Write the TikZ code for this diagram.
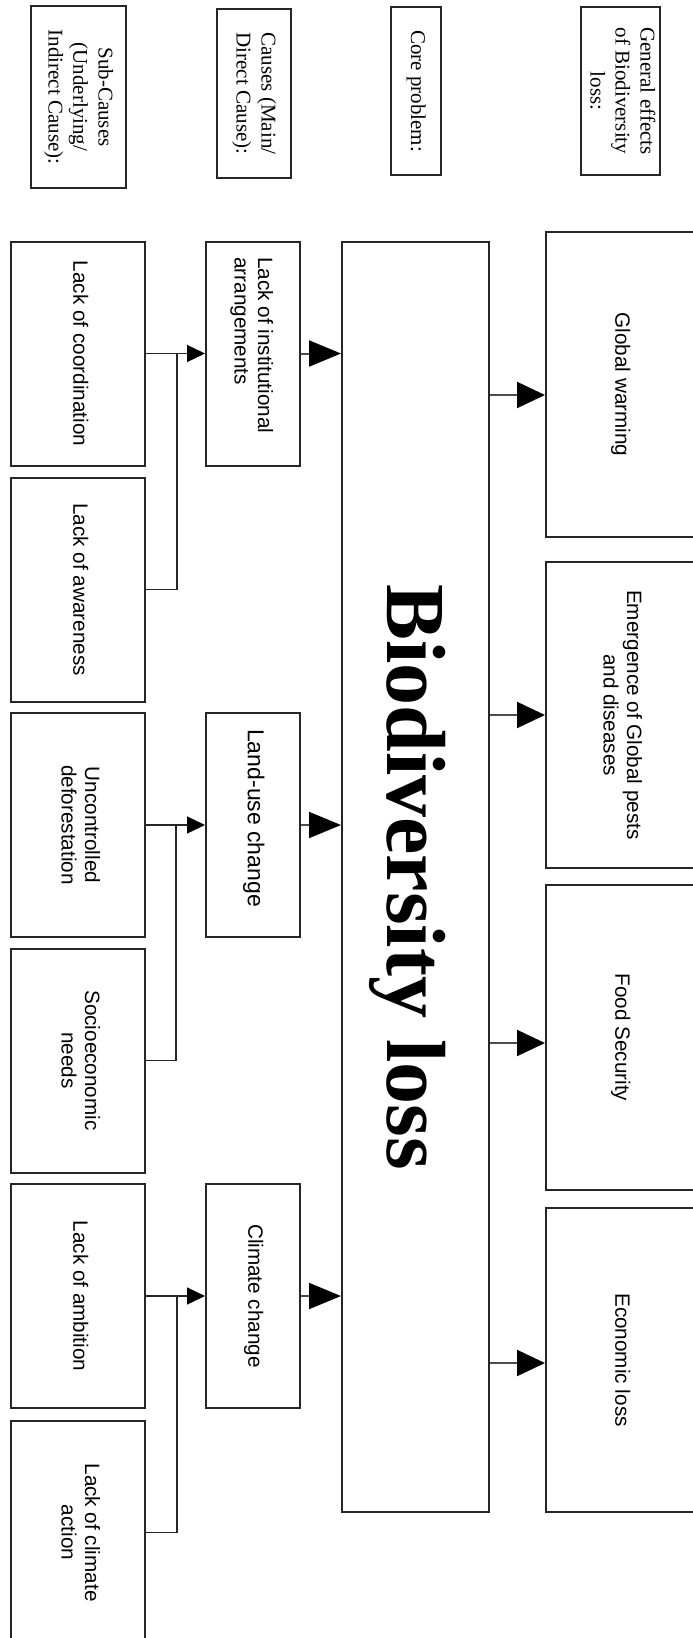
\documentclass[tikz,border=0pt]{standalone}
\usepackage{fontspec}
\setmainfont{Liberation Serif}
\newfontfamily\boxfont{Liberation Sans}
\usetikzlibrary{arrows.meta}

% font settings for the three kinds of text
\newcommand{\headfont}{\fontsize{21}{25}\selectfont}
\newcommand{\cellfont}{\boxfont\fontsize{20.7}{23.5}\selectfont}
\newcommand{\vtext}[2][c]{\rotatebox{-90}{\begin{tabular}{@{}#1@{}}#2\end{tabular}}}

\tikzset{
  frame/.style={draw=black!85, line width=2pt, fill=white, inner sep=0pt},
  box/.style 2 args={frame, minimum width=#1pt, minimum height=#2pt},
  head/.style={font=\headfont},
  cell/.style={font=\cellfont},
  link/.style={draw=black!85, line width=1.4pt},
  feed/.style={link, -{Triangle[length=18pt,width=17pt,color=black]}},
  mainarrow/.style={draw=black!70, line width=2pt, -{Triangle[length=32pt,width=26pt,color=black]}},
  effarrow/.style={draw=black!70, line width=2pt, -{Triangle[length=28pt,width=26pt,color=black]}}
}

\begin{document}
\begin{tikzpicture}[x=1pt,y=-1pt]
\useasboundingbox (0,0) rectangle (693,1638);
\fill[white] (0,0) rectangle (693,1638);

% row headers
\node[box={95}{182}, head] (hsub) at (78.5,97)
  {\vtext{Sub-Causes\\(Underlying/\\Indirect Cause):}};
\node[box={74}{169}, head] (hcause) at (254,93.5)
  {\vtext{Causes (Main/\\Direct Cause):}};
\node[box={50}{168}, head] (hcore) at (416,91)
  {\vtext{Core problem:}};
\node[box={79}{168}, head] (heff) at (620.5,91)
  {\vtext{General effects\\of Biodiversity\\loss:}};

% sub-causes
\node[box={134}{224}, cell] (coord)  at (78,353.5)  {\vtext{Lack of coordination}};
\node[box={134}{224}, cell] (aware)  at (78,589.5)  {\vtext{Lack of awareness}};
\node[box={134}{224}, cell] (defor)  at (78,825)    {\vtext{Uncontrolled\\deforestation}};
\node[box={134}{224}, cell] (socio)  at (78,1060.5) {\vtext{Socioeconomic\\needs}};
\node[box={134}{224}, cell] (ambit)  at (78,1296)   {\vtext{Lack of ambition}};
\node[box={134}{224}, cell] (action) at (78,1532.5) {\vtext{Lack of climate\\action}};

% main causes
\node[box={94}{224}] (inst) at (253,353.5) {};
\node[cell, anchor=north, inner sep=0pt] (instlabel) at (251,257)
  {\vtext[l]{Lack of institutional\\arrangements}};
\node[box={94}{224}] (land) at (253,825) {};
\node[font=\boxfont\fontsize{23}{26}\selectfont, anchor=north, inner sep=0pt] (landlabel) at (253,729)
  {\vtext{Land-use change}};
\node[box={94}{224}, cell] (clim) at (253,1296) {\vtext{Climate change}};

% core problem
\node[box={147}{1270}] (big) at (415.5,877)
  {\rotatebox{-90}{\fontsize{84}{90}\selectfont\bfseries\raisebox{0pt}[0.66em][0pt]{Biodiversity loss}}};

% effects
\node[box={148}{305}, cell] (warm) at (620,384.5)  {\vtext{Global warming}};
\node[box={148}{306}, cell] (pest) at (620,715)    {\vtext{Emergence of Global pests\\and diseases}};
\node[box={148}{305}, cell] (food) at (620,1037.5) {\vtext{Food Security}};
\node[box={148}{304}, cell] (econ) at (620,1360)   {\vtext{Economic loss}};

% junctions of the paired sub-causes
\coordinate (j1) at (177,353.5);
\coordinate (j2) at (176,825);
\coordinate (j3) at (177,1296);

% sub-causes feed the main causes
\draw[feed] (coord.east) -- (inst.west);
\draw[link] (aware.east) -| (j1);
\draw[feed] (defor.east) -- (land.west);
\draw[link] (socio.east) -| (j2);
\draw[feed] (ambit.east) -- (clim.west);
\draw[link] (action.east) -| (j3);

% main causes lead to the core problem
\draw[mainarrow] (inst.east) -- (big.west |- inst.east);
\draw[mainarrow] (land.east) -- (big.west |- land.east);
\draw[mainarrow] (clim.east) -- (big.west |- clim.east);

% core problem leads to its effects
\draw[effarrow] (big.east |- 0,395)  -- (warm.west |- 0,395);
\draw[effarrow] (big.east |- 0,715)  -- (pest.west |- 0,715);
\draw[effarrow] (big.east |- 0,1043) -- (food.west |- 0,1043);
\draw[effarrow] (big.east |- 0,1363) -- (econ.west |- 0,1363);
\end{tikzpicture}
\end{document}
